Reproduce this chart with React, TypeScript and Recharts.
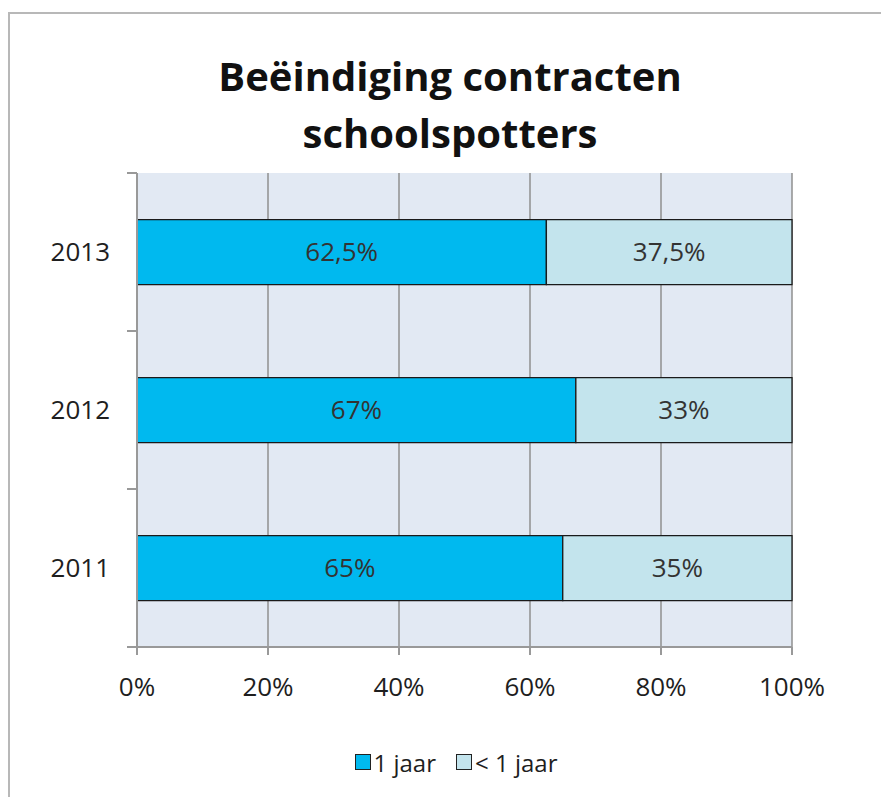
import { BarChart, Bar, XAxis, YAxis, CartesianGrid, Legend, LabelList } from 'recharts';

const YEARS = ['2013', '2012', '2011'];
const ONE_YEAR = [62.5, 67, 65];
const LESS_THAN_ONE = [37.5, 33, 35];
const X_TICKS = [0, 20, 40, 60, 80, 100];

const SERIES = [
  { key: 'een', name: '1 jaar', color: '#00b9ef' },
  { key: 'minder', name: '< 1 jaar', color: '#c3e4ed' },
];

const FONT = '"Open Sans", sans-serif';

const data = YEARS.map((year, i) => ({ year, een: ONE_YEAR[i], minder: LESS_THAN_ONE[i] }));

const fmt = (v: any) => `${String(v).replace('.', ',')}%`;

const YearTick = (props: any) => {
  const { x, y, payload, index, visibleTicksCount } = props;
  const half = payload?.offset ?? 0;
  const lx = x + 17;
  const last = index === (visibleTicksCount ?? YEARS.length) - 1;
  return (
    <g>
      <text x={x} y={y} dy="0.355em" textAnchor="end" fill="#1e1e1e" fontSize={26} fontFamily={FONT}>
        {payload.value}
      </text>
      <line x1={lx} x2={lx + 10} y1={y - half} y2={y - half} stroke="#999" strokeWidth={2} />
      {last && <line x1={lx} x2={lx + 10} y1={y + half} y2={y + half} stroke="#999" strokeWidth={2} />}
    </g>
  );
};

const LegendContent = ({ payload }: any) => (
  <div
    style={{
      height: 70,
      display: 'flex',
      alignItems: 'center',
      justifyContent: 'center',
      paddingLeft: 120,
      boxSizing: 'border-box',
      fontFamily: FONT,
      fontSize: 24,
      color: '#1e1e1e',
    }}
  >
    {(payload || []).map((entry: any, i: number) => (
      <span key={i} style={{ display: 'flex', alignItems: 'center', marginRight: i === 0 ? 20 : 0 }}>
        <span
          style={{
            width: 14,
            height: 14,
            background: entry.color,
            border: '1.5px solid #222',
            marginRight: 3,
            display: 'inline-block',
          }}
        />
        {entry.value}
      </span>
    ))}
  </div>
);

export default function App() {
  return (
    <div style={{ position: 'fixed', left: 0, top: 0, width: 881, height: 797, overflow: 'hidden', background: '#fff' }}>
      <div
        style={{
          position: 'absolute',
          left: 8,
          top: 12,
          width: 950,
          height: 950,
          border: '2px solid #b8b8b8',
        }}
      />
      <div
        style={{
          position: 'absolute',
          left: 0,
          top: 47,
          width: 900,
          textAlign: 'center',
          fontFamily: FONT,
          fontWeight: 700,
          fontSize: 40,
          lineHeight: '57px',
          color: '#111',
        }}
      >
        Beëindiging contracten
        <br />
        schoolspotters
      </div>
      <div style={{ position: 'absolute', left: 0, top: 0 }}>
        <BarChart
          width={881}
          height={797}
          data={data}
          layout="vertical"
          margin={{ top: 173, right: 89, bottom: 0, left: 0 }}
          barCategoryGap="29.5%"
        >
          <CartesianGrid horizontal={false} vertical stroke="#8f8f8f" strokeWidth={1.5} fill="#e2e9f3" />
          <XAxis
            type="number"
            domain={[0, 100]}
            ticks={X_TICKS}
            tickFormatter={(v) => `${v}%`}
            height={80}
            tickSize={8}
            tickMargin={23}
            stroke="#999"
            axisLine={{ stroke: '#999', strokeWidth: 2 }}
            tickLine={{ stroke: '#999', strokeWidth: 2 }}
            tick={{ fill: '#1e1e1e', fontSize: 26, fontFamily: FONT }}
          />
          <YAxis
            type="category"
            dataKey="year"
            width={137}
            tickSize={0}
            tickMargin={27}
            tickLine={false}
            axisLine={{ stroke: '#999', strokeWidth: 2 }}
            tick={<YearTick />}
          />
          <Legend verticalAlign="bottom" content={<LegendContent />} />
          {SERIES.map((s) => (
            <Bar
              key={s.key}
              dataKey={s.key}
              name={s.name}
              stackId="a"
              fill={s.color}
              stroke="#1a1a1a"
              strokeWidth={1.3}
              isAnimationActive={false}
            >
              <LabelList dataKey={s.key} position="center" formatter={fmt} fill="#333" fontSize={26} fontFamily={FONT} />
            </Bar>
          ))}
        </BarChart>
      </div>
    </div>
  );
}
